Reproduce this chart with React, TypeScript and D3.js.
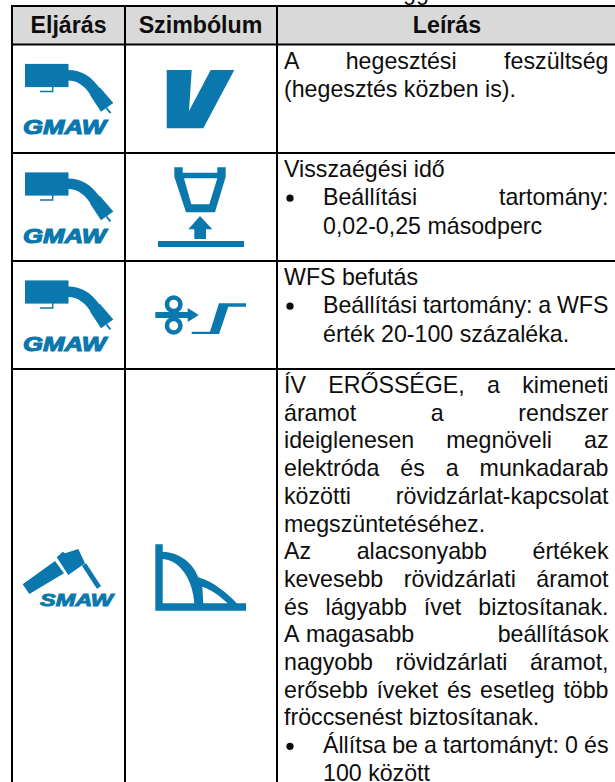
import React, { useEffect, useRef } from "react";
import * as d3 from "d3";

const headers = ["Eljárás", "Szimbólum", "Leírás"];
const processes = ["GMAW", "GMAW", "GMAW", "SMAW"];
const symbols = ["voltage", "burnback", "wfs", "arcforce"];

// [text, kind (0 plain, 1 indented, 2 bullet), justified]
const row1 = [
  ["A hegesztési feszültség", 0, 1],
  ["(hegesztés közben is).", 0, 0],
];
const row2 = [
  ["Visszaégési idő", 0, 0],
  ["Beállítási tartomány:", 2, 1],
  ["0,02-0,25 másodperc", 1, 0],
];
const row3 = [
  ["WFS befutás", 0, 0],
  ["Beállítási tartomány: a WFS", 2, 1],
  ["érték 20-100 százaléka.", 1, 0],
];
const row4 = [
  ["ÍV ERŐSSÉGE, a kimeneti", 0, 1],
  ["áramot a rendszer", 0, 1],
  ["ideiglenesen megnöveli az", 0, 1],
  ["elektróda és a munkadarab", 0, 1],
  ["közötti rövidzárlat-kapcsolat", 0, 1],
  ["megszüntetéséhez.", 0, 0],
  ["Az alacsonyabb értékek", 0, 1],
  ["kevesebb rövidzárlati áramot", 0, 1],
  ["és lágyabb ívet biztosítanak.", 0, 1],
  ["A\u00a0magasabb beállítások", 0, 1],
  ["nagyobb rövidzárlati áramot,", 0, 1],
  ["erősebb íveket és esetleg több", 0, 1],
  ["fröccsenést biztosítanak.", 0, 0],
  ["Állítsa be a tartományt: 0 és", 2, 1],
  ["100 között", 1, 0],
];
const rows = [row1, row2, row3, row4];

const BLUE = "#0a77ad";
const INK = "#0d0d0d";
const FONT = "'Liberation Sans', Arial, sans-serif";
const colLines = [12, 125, 277];
const rowLines = [6, 44.5, 153, 261, 369];

const App = () => {
  const ref = useRef<SVGSVGElement>(null);

  useEffect(() => {
    const svg = d3.select(ref.current);
    svg.selectAll("*").remove();

    // header background
    svg.append("rect").attr("x", colLines[0]).attr("y", rowLines[0]).attr("width", 615 - colLines[0]).attr("height", rowLines[1] - rowLines[0]).attr("fill", "#d9d9d9");

    // tail of the text above the table, cut by the page edge
    svg.append("text").attr("x", 403).attr("y", -0.5).attr("font-family", FONT).attr("font-size", 23.2).attr("fill", INK).text("gg");

    // grid
    const lineLayer = svg.append("g").attr("stroke", "#000").attr("stroke-width", 2);
    rowLines.forEach((y) => lineLayer.append("line").attr("x1", colLines[0] - 1).attr("x2", 615).attr("y1", y).attr("y2", y));
    colLines.forEach((x) => lineLayer.append("line").attr("x1", x).attr("x2", x).attr("y1", rowLines[0] - 1).attr("y2", 782));

    // headers
    const headerX = [68.5, 200.5, 447];
    headers.forEach((h, i) => {
      svg.append("text").attr("x", headerX[i]).attr("y", 33).attr("text-anchor", "middle")
        .attr("font-family", FONT).attr("font-size", 23.2).attr("font-weight", 700).attr("fill", INK).text(h);
    });

    // description text, justified with extra dx between the words
    const firstBaselines = [68.5, 176.5, 284.5, 393];
    const steps = [28.5, 28.5, 28.5, 27.7];
    const left = 284;
    const indent = 323;
    const right = 608.5;
    rows.forEach((r, ri) => {
      const lineY = d3.scaleLinear().domain([0, 1]).range([firstBaselines[ri], firstBaselines[ri] + steps[ri]]);
      r.forEach((l, li) => {
        const [str, kind, just] = l as [string, number, number];
        const x = kind ? indent : left;
        const y = lineY(li);
        const t = svg.append("text").attr("x", x).attr("y", y).attr("font-family", FONT).attr("font-size", 23.2).attr("fill", INK).text(str);
        if (just) {
          const natural = (t.node() as SVGTextElement).getComputedTextLength();
          const words = str.split(" ");
          const extra = (right - x - natural) / (words.length - 1);
          t.text(null);
          words.forEach((w, i) => {
            t.append("tspan").attr("dx", i ? extra : 0).text(i < words.length - 1 ? w + " " : w);
          });
        }
        if (kind === 2) {
          svg.append("circle").attr("cx", 290).attr("cy", y - 6.8).attr("r", 3.6).attr("fill", INK);
        }
      });
    });

    // process icons
    const drawGun = (g: any) => {
      g.append("rect").attr("x", 25).attr("y", 19.4).attr("width", 43.5).attr("height", 23.2).attr("fill", BLUE);
      const neck = d3.path();
      neck.moveTo(68, 25.5);
      neck.bezierCurveTo(82, 25.5, 91, 32, 100, 44);
      neck.lineTo(91, 51);
      neck.bezierCurveTo(85, 42, 78, 36, 68, 36);
      neck.closePath();
      g.append("path").attr("d", neck.toString()).attr("fill", BLUE);
      g.append("path").attr("d", "M90 50.5 L100 43 L113.3 58.5 L101 67.2 Z").attr("fill", BLUE);
      g.append("path").attr("d", "M40 47 H52.7 V42").attr("fill", "none").attr("stroke", BLUE).attr("stroke-width", 1.4);
      g.append("path").attr("d", "M106.5 63.5 L110.5 68.5").attr("fill", "none").attr("stroke", BLUE).attr("stroke-width", 2);
    };

    processes.forEach((name, i) => {
      if (name === "GMAW") {
        const g = svg.append("g").attr("transform", `translate(0,${rowLines[i + 1]})`);
        drawGun(g);
        g.append("text").attr("x", 23).attr("y", 89.8).attr("font-family", FONT)
          .attr("font-weight", 700).attr("font-style", "italic").attr("font-size", 20.5).attr("stroke", BLUE).attr("stroke-width", 1.1).attr("fill", BLUE).attr("textLength", 83).attr("lengthAdjust", "spacingAndGlyphs").text(name);
      } else {
        const g = svg.append("g");
        g.append("path").attr("d", "M22.7 584.3 L55 561 L64 573.3 L29.3 594 Z").attr("fill", BLUE);
        g.append("path").attr("d", "M56.7 557.3 L62.7 551.7 L65 553.3 L78.3 549 L85 563.3 L68.3 575 Z").attr("fill", BLUE);
        g.append("path").attr("d", "M84 564.5 L99 587.5").attr("stroke", BLUE).attr("stroke-width", 5).attr("fill", "none");
        g.append("text").attr("x", 40).attr("y", 606).attr("font-family", FONT)
          .attr("font-weight", 700).attr("font-style", "italic").attr("font-size", 16.5).attr("stroke", BLUE).attr("stroke-width", 0.9).attr("fill", BLUE).attr("textLength", 73).attr("lengthAdjust", "spacingAndGlyphs").text(name);
      }
    });

    // symbol icons
    symbols.forEach((s) => {
      const g = svg.append("g").attr("fill", BLUE);
      if (s === "voltage") {
        g.append("path").attr("d", "M166.7 70 H191.7 L189 111 L210.7 70 H234.3 L203.3 128.3 H166.7 Z");
      } else if (s === "burnback") {
        g.append("path").attr("fill-rule", "evenodd").attr("d", "M174.3 167.3 H182.7 V172.7 H217.3 V167.3 H225.7 V176.7 L215 212.3 H186 L174.3 176.7 Z M184 178.3 L191.3 204.3 H209.3 L217.3 178.3 Z");
        g.append("path").attr("d", "M200 216 L212.3 229.3 H206 V239 H194.3 V229.3 H188.3 Z");
        g.append("rect").attr("x", 158).attr("y", 241).attr("width", 86).attr("height", 6);
      } else if (s === "wfs") {
        [304.3, 325.7].forEach((cy) => {
          g.append("circle").attr("cx", 173.7).attr("cy", cy).attr("r", 6.75).attr("fill", "none").attr("stroke", BLUE).attr("stroke-width", 4.5);
        });
        g.append("rect").attr("x", 155.3).attr("y", 312).attr("width", 33).attr("height", 6);
        g.append("path").attr("d", "M187.7 308 L198.7 315 L187.7 322 Z");
        g.append("path").attr("d", "M191.7 331.7 H210 L219 303.3 H246 V306.7 H228.3 L219 334 H191.7 Z");
      } else {
        const p = d3.path();
        p.moveTo(155.3, 544.3);
        p.lineTo(162.7, 544.3);
        p.lineTo(162.7, 551.7);
        p.bezierCurveTo(180, 552.5, 193, 563, 198.3, 577.3);
        p.bezierCurveTo(214, 582, 227, 593, 236.7, 603.3);
        p.lineTo(246, 603.3);
        p.lineTo(246, 610.7);
        p.lineTo(155.3, 610.7);
        p.closePath();
        // inner cut-outs
        p.moveTo(162.7, 559);
        p.lineTo(162.7, 603.3);
        p.lineTo(194.3, 603.3);
        p.bezierCurveTo(193, 580, 180, 560, 162.7, 559);
        p.closePath();
        p.moveTo(202.3, 586.7);
        p.lineTo(203.3, 603.3);
        p.lineTo(227.7, 603.3);
        p.bezierCurveTo(220, 596, 212, 590, 202.3, 586.7);
        p.closePath();
        g.append("path").attr("fill-rule", "evenodd").attr("d", p.toString());
      }
    });
  }, []);

  return <svg ref={ref} width={615} height={782} style={{ position: "absolute", left: 0, top: 0, background: "#fff" }} />;
};

export default App;
